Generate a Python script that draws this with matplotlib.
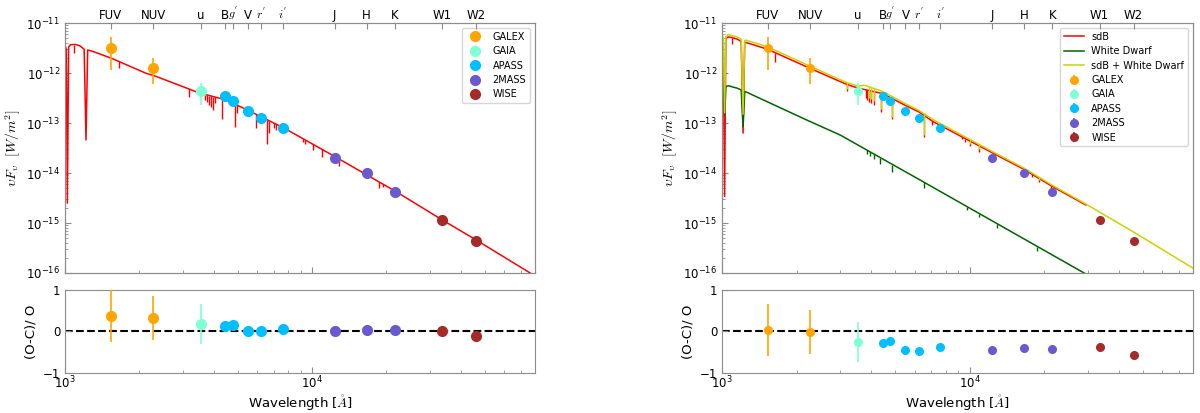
import matplotlib
matplotlib.use('Agg')
import matplotlib.pyplot as plt
from matplotlib.ticker import NullLocator, NullFormatter, LogLocator

plt.rcParams['mathtext.fontset'] = 'cm'
plt.rcParams['axes.edgecolor'] = '0.55'
plt.rcParams['xtick.color'] = '0.55'
plt.rcParams['ytick.color'] = '0.55'
plt.rcParams['xtick.labelcolor'] = 'black'
plt.rcParams['ytick.labelcolor'] = 'black'

# filters marked on the top axis
bands = ['FUV', 'NUV', 'u', 'B', "$g^{'}$", 'V', "$r^{'}$", "$i^{'}$", 'J', 'H', 'K', 'W1', 'W2']
band_wl = [1528, 2271, 3551, 4450, 4770, 5510, 6231, 7625, 12350, 16620, 21590, 33526, 46028]

# observed photometry, nuFnu in W/m^2
galex_wl = [1528, 2271]
galex_f = [3.17e-12, 1.28e-12]
galex_err = [2.0e-12, 6.8e-13]
gaia_wl = [3551]
gaia_f = [4.38e-13]
gaia_err = [2.1e-13]
apass_wl = [4450, 4770, 5510, 6231, 7625]
apass_f = [3.43e-13, 2.81e-13, 1.72e-13, 1.25e-13, 7.9e-14]
apass_err = [7e-15, 6e-15, 3e-15, 2.5e-15, 1.6e-15]
tmass_wl = [12350, 16620, 21590]
tmass_f = [2.01e-14, 9.9e-15, 4.15e-15]
tmass_err = [4e-16, 2e-16, 8e-17]
wise_wl = [33526, 46028]
wise_f = [1.15e-15, 4.43e-16]
wise_err = [1.1e-16, 2.7e-17]

# (O-C)/O residuals: single sdB fit (left) and sdB + WD fit (right)
galex_res1 = [0.38, 0.33]
gaia_res1 = [0.17]
apass_res1 = [0.14, 0.16, 0.02, 0.0, 0.06]
tmass_res1 = [0.01, 0.04, 0.03]
wise_res1 = [0.02, -0.10]
galex_res2 = [0.04, -0.02]
gaia_res2 = [-0.26]
apass_res2 = [-0.27, -0.24, -0.44, -0.46, -0.37]
tmass_res2 = [-0.45, -0.40, -0.42]
wise_res2 = [-0.38, -0.56]
galex_rerr = [0.63, 0.53]
gaia_rerr = [0.48]
apass_rerr = [0.02, 0.02, 0.02, 0.02, 0.02]
tmass_rerr = [0.02, 0.02, 0.02]
wise_rerr = [0.10, 0.06]

# left: sdB model continuum
sdb1_wl = [1000, 1012, 1022, 1034, 1050, 1100, 1150, 1195, 1216, 1235, 1300, 1545, 2130, 2320,
           3500, 4500, 5570, 7680, 12560, 16340, 21970, 33700, 46100, 80000]
sdb1_f = [3.6e-12, 3.0e-12, 2.5e-15, 3.3e-12, 3.7e-12, 3.75e-12, 3.5e-12, 3.0e-12, 4.6e-14, 2.9e-12,
          2.7e-12, 1.97e-12, 9.9e-13, 8.7e-13, 4.0e-13, 2.9e-13, 1.75e-13, 8.0e-14, 2.05e-14,
          9.7e-15, 4.2e-15, 1.15e-15, 4.6e-16, 8.7e-17]
# left: sdB absorption lines (wavelength, continuum, line bottom)
sdb1_lines_wl = [1089, 1647, 3185, 3697, 3765, 3835, 3900, 3970, 4065, 4340, 4860, 4960, 5925,
                 6582, 6700, 7030, 7150, 9180, 9400, 10120, 10950, 12870, 18700, 19400]
sdb1_lines_top = [3.73e-12, 1.72e-12, 4.78e-13, 3.73e-13, 3.64e-13, 3.56e-13, 3.48e-13, 3.4e-13,
                  3.3e-13, 3.04e-13, 2.42e-13, 2.3e-13, 1.5e-13, 1.165e-13, 1.12e-13, 9.9e-14,
                  9.5e-14, 4.88e-14, 4.57e-14, 3.73e-14, 3.0e-14, 1.91e-14, 6.62e-15, 5.97e-15]
sdb1_lines_bot = [2.5e-12, 1.25e-12, 3.3e-13, 2.9e-13, 2.7e-13, 2.3e-13, 2.1e-13, 1.85e-13,
                  2.5e-13, 1.2e-13, 8.5e-14, 1.57e-13, 7.9e-14, 3.8e-14, 6.2e-14, 7.9e-14,
                  7.3e-14, 4.2e-14, 3.9e-14, 2.9e-14, 2.14e-14, 1.39e-14, 5.0e-15, 5.2e-15]

# right: sdB component
sdb2_wl = [1000, 1012, 1024, 1036, 1060, 1100, 1150, 1195, 1216, 1235, 1250, 1528, 2271, 3200,
           3551, 4450, 5510, 6231, 7170, 12350, 16620, 21590, 29500]
sdb2_f = [5.2e-12, 4.6e-12, 3.4e-15, 4.9e-12, 5.3e-12, 5.1e-12, 4.8e-12, 4.3e-12, 6.3e-14,
          4.1e-12, 4.1e-12, 3.0e-12, 1.24e-12, 5.9e-13, 5.0e-13, 3.9e-13, 2.25e-13, 1.68e-13,
          1.05e-13, 2.55e-14, 1.18e-14, 5.4e-15, 2.3e-15]
sdb2_lines_wl = [1095, 1639, 3200, 3800, 3870, 3940, 4010, 4100, 4390, 4880, 6560, 7060, 9300,
                 9630, 10090, 10900, 17840, 19000, 21300]
sdb2_lines_top = [5.1e-12, 2.55e-12, 5.9e-13, 4.64e-13, 4.55e-13, 4.46e-13, 4.37e-13, 4.27e-13,
                  3.96e-13, 3.08e-13, 1.41e-13, 1.105e-13, 5.34e-14, 4.87e-14, 4.32e-14, 3.53e-14,
                  9.55e-15, 7.9e-15, 5.62e-15]
sdb2_lines_bot = [3.9e-12, 1.7e-12, 4.4e-13, 3.2e-13, 2.9e-13, 2.7e-13, 2.5e-13, 2.3e-13,
                  1.7e-13, 1.19e-13, 5.3e-14, 9.1e-14, 4.8e-14, 4.1e-14, 3.5e-14, 2.6e-14,
                  8.2e-15, 6.6e-15, 4.9e-15]

# right: white dwarf component
wd_wl = [1000, 1012, 1024, 1036, 1060, 1100, 1150, 1195, 1216, 1235, 1250, 2200, 3005, 6530,
         29040, 40000]
wd_f = [5.75e-13, 5.0e-13, 1.45e-13, 5.4e-13, 5.6e-13, 5.3e-13, 5.0e-13, 4.6e-13, 8.5e-14,
        4.3e-13, 4.2e-13, 1.15e-13, 5.75e-14, 6.6e-15, 1.0e-16, 4.0e-17]
wd_lines_wl = [3855, 3975, 4100, 4365, 4866, 6530, 9790, 10900, 12940, 18800]
wd_lines_top = [2.85e-14, 2.62e-14, 2.4e-14, 2.01e-14, 1.48e-14, 6.5e-15, 2.08e-15, 1.54e-15,
                9.5e-16, 3.33e-16]
wd_lines_bot = [2.4e-14, 2.15e-14, 1.9e-14, 1.5e-14, 1.05e-14, 5.1e-15, 1.85e-15, 1.34e-15,
                8.1e-16, 2.8e-16]

# right: sdB + white dwarf
sum_wl = [1000, 1012, 1024, 1036, 1060, 1100, 1150, 1195, 1216, 1235, 1250, 1528, 2271, 3200,
          3551, 3750, 3850, 4450, 5510, 6231, 7170, 12350, 16620, 21590, 29500, 46028, 80000]
sum_f = [5.75e-12, 5.1e-12, 1.6e-13, 5.4e-12, 5.9e-12, 5.6e-12, 5.3e-12, 4.75e-12, 1.5e-13,
         4.5e-12, 4.55e-12, 3.35e-12, 1.37e-12, 6.4e-13, 5.5e-13, 5.7e-13, 5.5e-13, 4.3e-13,
         2.45e-13, 1.8e-13, 1.15e-13, 2.7e-14, 1.25e-14, 5.7e-15, 2.4e-15, 6.6e-16, 1.25e-16]
sum_lines_wl = [3200, 3940, 4010, 4100, 4390, 4880, 6560, 10090, 10900, 19000]
sum_lines_top = [6.4e-13, 5.29e-13, 5.13e-13, 4.94e-13, 4.4e-13, 3.37e-13, 1.53e-13, 4.63e-14,
                 3.77e-14, 8.37e-15]
sum_lines_bot = [4.9e-13, 3.2e-13, 3.0e-13, 2.8e-13, 1.9e-13, 1.3e-13, 5.9e-14, 3.9e-14,
                 3.0e-14, 7.3e-15]

names = ['GALEX', 'GAIA', 'APASS', '2MASS', 'WISE']
colors = ['orange', 'aquamarine', 'deepskyblue', 'slateblue', 'brown']
phot = [(galex_wl, galex_f, galex_err, galex_res1, galex_res2, galex_rerr),
        (gaia_wl, gaia_f, gaia_err, gaia_res1, gaia_res2, gaia_rerr),
        (apass_wl, apass_f, apass_err, apass_res1, apass_res2, apass_rerr),
        (tmass_wl, tmass_f, tmass_err, tmass_res1, tmass_res2, tmass_rerr),
        (wise_wl, wise_f, wise_err, wise_res1, wise_res2, wise_rerr)]

XLIM = (1000, 80000)
FS = 8.5


def style_axes(ax, rax):
    for a in (ax, rax):
        a.set_xscale('log')
        a.set_xlim(XLIM)
        a.tick_params(which='both', direction='in', top=False, right=False, labelsize=FS)
        a.tick_params(which='major', length=4)
        a.tick_params(which='minor', length=2.5)
        a.tick_params(axis='x', pad=1.5)
        a.xaxis.set_minor_formatter(NullFormatter())
    ax.set_yscale('log')
    ax.set_ylim(1e-16, 1e-11)
    ax.yaxis.set_major_locator(LogLocator(base=10, numticks=10))
    ax.yaxis.set_minor_locator(LogLocator(base=10, subs=range(2, 10), numticks=20))
    ax.tick_params(axis='x', labelbottom=False)
    ax.set_ylabel(r'$\upsilon F_{\upsilon}\ \ [W/m^2]$', fontsize=10, labelpad=2)
    rax.set_ylim(-1, 1)
    rax.set_yticks([-1, 0, 1])
    rax.axhline(0, color='black', ls='--', lw=1.5, zorder=1)
    rax.set_ylabel('(O-C)/ O', fontsize=9.5, labelpad=4)
    rax.set_xlabel(r'Wavelength [$\mathring{A}$]', fontsize=9.5, labelpad=1)
    top = ax.twiny()
    top.set_xscale('log')
    top.set_xlim(XLIM)
    top.set_xticks(band_wl)
    top.set_xticklabels(bands)
    top.xaxis.set_minor_locator(NullLocator())
    top.tick_params(axis='x', direction='in', length=4, pad=1, labelsize=FS)


fig = plt.figure(figsize=(12, 4.13), dpi=100)
ax_l = fig.add_axes([0.0542, 0.339, 0.3917, 0.605])
rax_l = fig.add_axes([0.0542, 0.097, 0.3917, 0.201])
ax_r = fig.add_axes([0.6017, 0.339, 0.3925, 0.605])
rax_r = fig.add_axes([0.6017, 0.097, 0.3925, 0.201])

# ---- left: single sdB fit
ax_l.plot(sdb1_wl, sdb1_f, color='red', lw=1.1, zorder=2)
ax_l.vlines(sdb1_lines_wl, sdb1_lines_bot, sdb1_lines_top, color='red', lw=1.0, zorder=2)
for name, c, (wl, f, e, r1, r2, re) in zip(names, colors, phot):
    ax_l.errorbar(wl, f, yerr=e, fmt='none', ecolor=c, elinewidth=1.2, zorder=3)
    ax_l.plot(wl, f, 'o', color=c, ms=7, label=name, zorder=4)
    rax_l.errorbar(wl, r1, yerr=re, fmt='none', ecolor=c, elinewidth=1.2, zorder=3)
    rax_l.plot(wl, r1, 'o', color=c, ms=7, zorder=4)
ax_l.legend(loc='upper right', fontsize=7, labelspacing=0.45)
style_axes(ax_l, rax_l)

# ---- right: sdB + white dwarf fit
ax_r.plot(sdb2_wl, sdb2_f, color='red', lw=1.1, label='sdB', zorder=2)
ax_r.vlines(sdb2_lines_wl, sdb2_lines_bot, sdb2_lines_top, color='red', lw=1.0, zorder=2)
ax_r.plot(wd_wl, wd_f, color='darkgreen', lw=1.1, label='White Dwarf', zorder=2)
ax_r.vlines(wd_lines_wl, wd_lines_bot, wd_lines_top, color='darkgreen', lw=1.0, zorder=2)
ax_r.plot(sum_wl, sum_f, color='#c8d400', lw=1.1, label='sdB + White Dwarf', zorder=2.5)
ax_r.vlines(sum_lines_wl, sum_lines_bot, sum_lines_top, color='#c8d400', lw=1.0, zorder=2.5)
for name, c, (wl, f, e, r1, r2, re) in zip(names, colors, phot):
    ax_r.errorbar(wl, f, yerr=e, fmt='o', color=c, ms=5.5, elinewidth=1.2, label=name, zorder=4)
    rax_r.errorbar(wl, r2, yerr=re, fmt='o', color=c, ms=5.5, elinewidth=1.2, zorder=4)
ax_r.legend(loc='upper right', fontsize=7, labelspacing=0.45)
style_axes(ax_r, rax_r)

fig.savefig('out.png', dpi=100)
